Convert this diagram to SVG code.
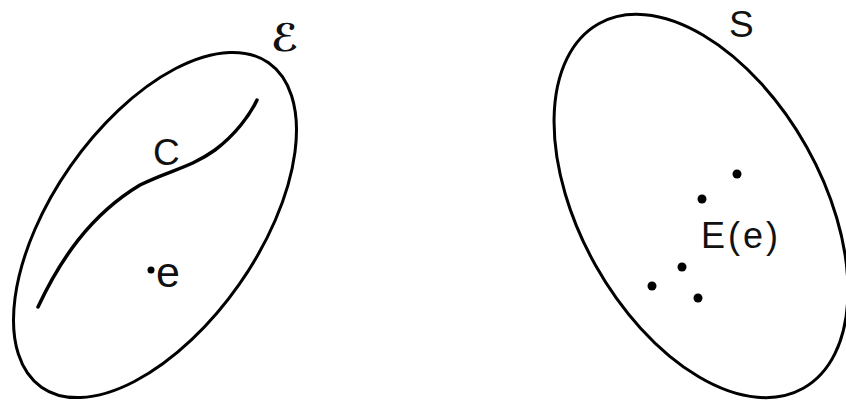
<svg xmlns="http://www.w3.org/2000/svg" width="846" height="400" viewBox="0 0 846 400">
<style>
.set{fill:none;stroke:#000;stroke-width:3}
.curve{fill:none;stroke:#000;stroke-width:3.5;stroke-linecap:round}
.lbl{font-family:"Liberation Sans",Arial,sans-serif;font-size:37px;fill:#111}
.pt{fill:#000}
</style>
<rect width="846" height="400" fill="#fff"/>
<g id="setE">
<ellipse class="set" cx="155" cy="225" rx="198" ry="103" transform="rotate(-55 155 225)"/>
<text x="271" y="51" style="font-family:'DejaVu Serif','DejaVu Sans',serif;font-size:38px;font-style:italic;font-weight:bold" fill="#111">ℰ</text>
</g>
<g id="curveC">
<path class="curve" d="M38,307 C60,260 90,215 140,185 C170,170 190,168 215,150 C235,135 250,115 257,100"/>
<text class="lbl" x="153" y="165">C</text>
</g>
<g id="pointE">
<circle class="pt" cx="151" cy="270" r="3.5"/>
<text class="lbl" x="156" y="287" style="font-size:43px">e</text>
</g>
<g id="setS">
<ellipse class="set" cx="701" cy="206" rx="209" ry="121" transform="rotate(60.7 701 206)"/>
<text class="lbl" x="729" y="37">S</text>
</g>
<g id="imageE">
<circle class="pt" cx="737" cy="174" r="4.5"/>
<circle class="pt" cx="702" cy="199" r="4.5"/>
<circle class="pt" cx="682" cy="267" r="4.5"/>
<circle class="pt" cx="652" cy="286" r="4.5"/>
<circle class="pt" cx="698" cy="298" r="4.5"/>
<text class="lbl" x="701" y="248" style="font-size:36px;letter-spacing:3px">E(e)</text>
</g>
<g id="connectors"/>
</svg>
